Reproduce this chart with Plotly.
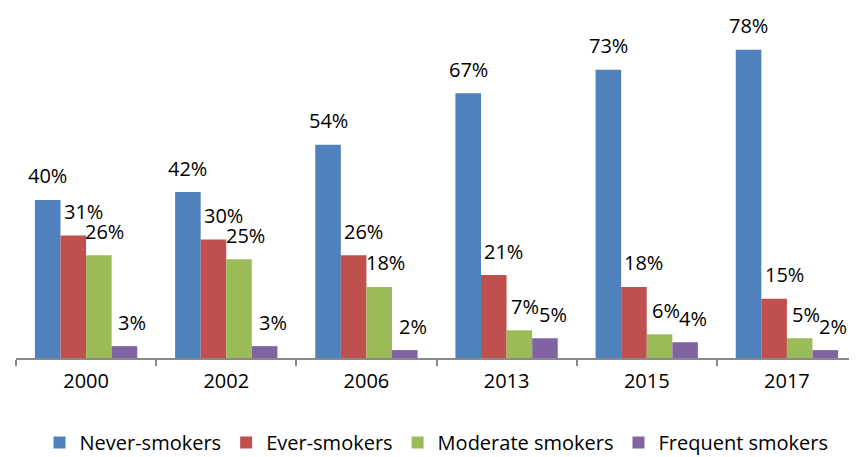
import plotly.graph_objects as go

years = ['2000', '2002', '2006', '2013', '2015', '2017']
never_smokers = [40, 42, 54, 67, 73, 78]
ever_smokers = [31, 30, 26, 21, 18, 15]
moderate_smokers = [26, 25, 18, 7, 6, 5]
frequent_smokers = [3, 3, 2, 5, 4, 2]

series = [
    ('Never-smokers', never_smokers, '#4F81BD'),
    ('Ever-smokers', ever_smokers, '#C0504D'),
    ('Moderate smokers', moderate_smokers, '#9BBB59'),
    ('Frequent smokers', frequent_smokers, '#8064A2'),
]

font = 'Open Sans'
# page body has an 8px margin, so the figure is a bit smaller than the window
W, H = 849, 449
ml, mr, mt, mb = 8, 0, 0, 99
bargap = 0.27

fig = go.Figure()
for name, vals, color in series:
    fig.add_trace(go.Bar(
        x=years, y=vals, name=name,
        marker=dict(color=color, line=dict(width=0)),
    ))

# data labels above each bar (category axis -> serial index for annotations)
group_w = (W - ml - mr) / len(years)
bar_w = group_w * (1 - bargap) / len(series)
extra = [0, 10, 6, 8]  # labels nudged right like the original
for j, (name, vals, color) in enumerate(series):
    off = (j - (len(series) - 1) / 2) * bar_w
    for i, v in enumerate(vals):
        fig.add_annotation(
            x=i, y=v, xref='x', yref='y',
            text=f'{v}%', showarrow=False,
            xshift=off + extra[j], yshift=24,
            yanchor='middle',
            font=dict(family=font, size=20, color='#000000'),
        )

fig.update_layout(
    width=W, height=H,
    margin=dict(l=ml, r=mr, t=mt, b=mb, autoexpand=False),
    barmode='group', bargap=bargap, bargroupgap=0,
    plot_bgcolor='white', paper_bgcolor='white',
    font=dict(family=font, size=20, color='#000000'),
    showlegend=True,
    legend=dict(
        orientation='h', x=0.5, xanchor='center', y=-0.186, yanchor='top',
        font=dict(family=font, size=20), itemwidth=30, tracegroupgap=0,
    ),
    xaxis=dict(
        type='category', range=[-0.5, len(years) - 0.5], automargin=False,
        showline=True, linecolor='#898989', linewidth=2,
        ticks='outside', tickson='boundaries', ticklen=6, tickcolor='#898989', tickwidth=2,
        tickfont=dict(family=font, size=20), ticklabelstandoff=4,
        showgrid=False,
    ),
    yaxis=dict(
        range=[0, 88.6], visible=False, showgrid=False, zeroline=False,
    ),
)

fig.write_html('out.html')
